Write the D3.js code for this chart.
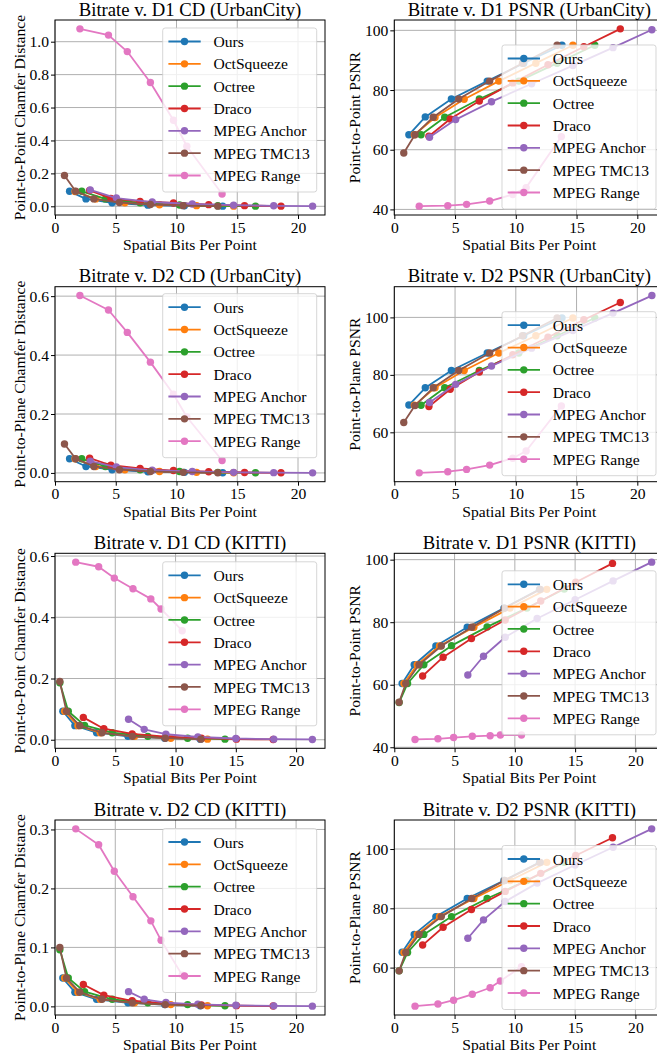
<!DOCTYPE html>
<html>
<head>
<meta charset="utf-8">
<script src="https://cdn.jsdelivr.net/npm/d3@7"></script>
<style>
  body { margin: 0; background: #fff; }
  svg { display: block; font-family: "Liberation Serif", "DejaVu Serif", serif; }
</style>
</head>
<body>
<svg id="fig" width="657" height="1055"></svg>
<script>
// methods, in plotting order (later ones are drawn on top)
const methods = ["Ours", "OctSqueeze", "Octree", "Draco", "MPEG Anchor", "MPEG TMC13", "MPEG Range"];
const palette = ["#1f77b4", "#ff7f0e", "#2ca02c", "#d62728", "#9467bd", "#8c564b", "#e377c2"];

// UrbanCity: spatial bits per point, one row per method
const urbanBpp = [
  [1.2, 2.55, 4.7, 7.65, 10.65, 13.8],
  [1.65, 3.35, 5.75, 8.6, 11.65, 14.7],
  [2.2, 4.15, 7.0, 10.25, 13.4, 16.5],
  [2.85, 4.6, 7.0, 9.75, 12.65, 15.6, 18.6],
  [2.9, 5.05, 8.0, 11.3, 14.7, 18.0, 21.2],
  [0.78, 1.7, 3.2, 5.3, 7.85, 10.55, 13.4],
  [2.05, 4.4, 5.95, 7.85, 9.75, 10.85, 13.75]
];
const urbanD1CD = [
  [0.091, 0.045, 0.021, 0.007, 0.003, 0.001],
  [0.09, 0.045, 0.022, 0.009, 0.004, 0.001],
  [0.091, 0.045, 0.021, 0.008, 0.003, 0.001],
  [0.097, 0.048, 0.03, 0.02, 0.01, 0.004, 0.001],
  [0.1, 0.05, 0.026, 0.014, 0.007, 0.003, 0.001],
  [0.187, 0.092, 0.045, 0.023, 0.011, 0.004, 0.001],
  [1.078, 1.04, 0.94, 0.752, 0.523, 0.365, 0.075]
];
const urbanD1PSNR = [
  [65, 71, 77, 83, 89, 95],
  [65, 70.8, 76.9, 83, 89, 95],
  [65, 70.9, 77, 83, 89, 95],
  [64.5, 70.3, 76.3, 82.4, 88.5, 94.5, 100.5],
  [64.2, 70.1, 76.1, 82.1, 88.2, 94.2, 100.2],
  [58.9, 65, 70.9, 77, 83, 89, 95],
  [41.1, 41.25, 41.7, 42.8, 45.0, 47.3, 64.4]
];
const urbanD2CD = [
  [0.048, 0.022, 0.011, 0.004, 0.002, 0.0005],
  [0.048, 0.022, 0.011, 0.005, 0.002, 0.0005],
  [0.048, 0.022, 0.011, 0.005, 0.002, 0.0005],
  [0.05, 0.026, 0.015, 0.008, 0.004, 0.0015, 0.0005],
  [0.04, 0.02, 0.009, 0.005, 0.002, 0.001, 0.0003],
  [0.098, 0.048, 0.022, 0.011, 0.005, 0.002, 0.0005],
  [0.602, 0.553, 0.477, 0.376, 0.267, 0.19, 0.042]
];
const urbanD2PSNR = [
  [69.5, 75.5, 81.5, 87.6, 93.6, 99.8],
  [69.4, 75.5, 81.5, 87.6, 93.6, 99.8],
  [69.4, 75.5, 81.5, 87.6, 93.6, 99.8],
  [69.0, 75.0, 81.0, 87.0, 93.1, 99.2, 105.2],
  [70.4, 76.7, 83.1, 89.3, 95.4, 101.5, 107.6],
  [63.4, 69.3, 75.5, 81.5, 87.6, 93.6, 99.8],
  [45.9, 46.3, 47.1, 48.6, 51.0, 53.5, 69.2]
];

// KITTI
const kittiBpp = [
  [0.65, 1.65, 3.45, 6.05, 9.1, 12.05],
  [0.8, 1.9, 3.75, 6.6, 9.6, 12.65],
  [0.4, 1.1, 2.45, 4.75, 7.7, 11.0, 14.1],
  [2.35, 4.05, 6.4, 9.2, 12.15, 15.05, 18.1],
  [6.1, 7.4, 9.2, 11.85, 15.0, 18.15, 21.35],
  [0.4, 0.95, 2.05, 3.9, 6.42, 9.15, 12.1],
  [1.72, 3.62, 4.92, 6.47, 7.95, 8.8, 10.55]
];
const kittiD1CD = [
  [0.093, 0.046, 0.023, 0.011, 0.005, 0.002],
  [0.093, 0.046, 0.023, 0.011, 0.005, 0.002],
  [0.186, 0.093, 0.047, 0.023, 0.011, 0.005, 0.002],
  [0.073, 0.036, 0.019, 0.01, 0.005, 0.002, 0.001],
  [0.067, 0.034, 0.018, 0.009, 0.004, 0.002, 0.001],
  [0.19, 0.093, 0.046, 0.023, 0.011, 0.005, 0.002],
  [0.58, 0.565, 0.528, 0.493, 0.46, 0.427, 0.356]
];
const kittiD1PSNR = [
  [60.4, 66.4, 72.4, 78.4, 84.5, 90.5],
  [60.4, 66.4, 72.4, 78.4, 84.5, 90.5],
  [54.3, 60.4, 66.4, 72.5, 78.5, 84.5, 90.6],
  [62.8, 68.8, 74.8, 80.7, 86.8, 92.8, 98.8],
  [63.1, 69.1, 75.2, 81.2, 87.2, 93.2, 99.2],
  [54.4, 60.4, 66.4, 72.4, 78.4, 84.5, 90.5],
  [42.5, 42.7, 43.1, 43.5, 43.7, 43.9, 43.9]
];
const kittiD2CD = [
  [0.048, 0.024, 0.012, 0.006, 0.003, 0.001],
  [0.048, 0.024, 0.012, 0.006, 0.003, 0.001],
  [0.096, 0.048, 0.025, 0.012, 0.006, 0.003, 0.001],
  [0.037, 0.019, 0.0095, 0.005, 0.0025, 0.0012, 0.0006],
  [0.025, 0.012, 0.0065, 0.0035, 0.0018, 0.0009, 0.0004],
  [0.1, 0.048, 0.024, 0.012, 0.006, 0.003, 0.0015],
  [0.301, 0.274, 0.229, 0.186, 0.145, 0.112, 0.053]
];
const kittiD2PSNR = [
  [65.2, 71.2, 77.2, 83.3, 89.4, 95.5],
  [65.1, 71.2, 77.2, 83.3, 89.4, 95.5],
  [58.9, 65.1, 71.2, 77.2, 83.3, 89.4, 95.5],
  [67.6, 73.6, 79.6, 85.7, 91.8, 97.8, 103.8],
  [69.9, 76.1, 82.3, 88.5, 94.6, 100.6, 106.8],
  [58.9, 65.1, 71.2, 77.2, 83.3, 89.4, 95.5],
  [47.0, 47.7, 49.0, 51.0, 53.2, 55.5, 60.3]
];

const titles = [
  "Bitrate v. D1 CD (UrbanCity)", "Bitrate v. D1 PSNR (UrbanCity)",
  "Bitrate v. D2 CD (UrbanCity)", "Bitrate v. D2 PSNR (UrbanCity)",
  "Bitrate v. D1 CD (KITTI)", "Bitrate v. D1 PSNR (KITTI)",
  "Bitrate v. D2 CD (KITTI)", "Bitrate v. D2 PSNR (KITTI)"
];
const yLabels = [
  "Point-to-Point Chamfer Distance", "Point-to-Point PSNR",
  "Point-to-Plane Chamfer Distance", "Point-to-Plane PSNR",
  "Point-to-Point Chamfer Distance", "Point-to-Point PSNR",
  "Point-to-Plane Chamfer Distance", "Point-to-Plane PSNR"
];
const yTicks = [
  [0, 0.2, 0.4, 0.6, 0.8, 1.0], [40, 60, 80, 100],
  [0, 0.2, 0.4, 0.6], [60, 80, 100],
  [0, 0.2, 0.4, 0.6], [40, 60, 80, 100],
  [0, 0.1, 0.2, 0.3], [60, 80, 100]
];
const xTicks = [0, 5, 10, 15, 20];
const xLabel = "Spatial Bits Per Point";

const panels = [
  {bpp: urbanBpp, vals: urbanD1CD}, {bpp: urbanBpp, vals: urbanD1PSNR},
  {bpp: urbanBpp, vals: urbanD2CD}, {bpp: urbanBpp, vals: urbanD2PSNR},
  {bpp: kittiBpp, vals: kittiD1CD}, {bpp: kittiBpp, vals: kittiD1PSNR},
  {bpp: kittiBpp, vals: kittiD2CD}, {bpp: kittiBpp, vals: kittiD2PSNR}
];

// layout
const axW = 270, axH = 195;
const colLeft = [55, 394.3];
const rowTop = [20, 286.7, 553.3, 820];
const legendTop = [8, 25, 7, 25, 8.5, 17.5, 8.5, 25.5]; // offset from axes top
const fs = 15.6, titleFs = 18.7;

const svg = d3.select("#fig");

panels.forEach((p, i) => {
  const left = colLeft[i % 2], top = rowTop[Math.floor(i / 2)];
  const bottom = top + axH, right = left + axW;
  const isCD = i % 2 === 0;

  const allX = p.bpp.flat(), allY = p.vals.flat();
  const [xMin, xMax] = d3.extent(allX);
  const [yMin, yMax] = d3.extent(allY);
  const x = d3.scaleLinear().domain([0, xMax + 0.05 * (xMax - xMin)]).range([left, right]);
  const y = d3.scaleLinear()
    .domain([yMin - 0.05 * (yMax - yMin), yMax + 0.05 * (yMax - yMin)])
    .range([bottom, top]);

  const g = svg.append("g");

  // grid
  g.append("g").selectAll("line").data(xTicks).join("line")
    .attr("x1", d => x(d)).attr("x2", d => x(d))
    .attr("y1", top).attr("y2", bottom)
    .attr("stroke", "#b0b0b0").attr("stroke-width", 1);
  g.append("g").selectAll("line").data(yTicks[i]).join("line")
    .attr("x1", left).attr("x2", right)
    .attr("y1", d => y(d)).attr("y2", d => y(d))
    .attr("stroke", "#b0b0b0").attr("stroke-width", 1);

  // series
  const line = d3.line().x(d => x(d[0])).y(d => y(d[1]));
  methods.forEach((m, k) => {
    const pts = p.bpp[k].map((b, j) => [b, p.vals[k][j]]);
    const s = g.append("g");
    s.append("path").datum(pts)
      .attr("d", line).attr("fill", "none")
      .attr("stroke", palette[k]).attr("stroke-width", 1.8)
      .attr("stroke-linejoin", "round");
    s.selectAll("circle").data(pts).join("circle")
      .attr("cx", d => x(d[0])).attr("cy", d => y(d[1]))
      .attr("r", 3.7).attr("fill", palette[k]);
  });

  // spines
  g.append("rect").attr("x", left).attr("y", top).attr("width", axW).attr("height", axH)
    .attr("fill", "none").attr("stroke", "#000").attr("stroke-width", 1);

  // axes
  const fmt = isCD ? d3.format(".1f") : d3.format("d");
  const ax = g.append("g").attr("transform", `translate(0,${bottom})`)
    .call(d3.axisBottom(x).tickValues(xTicks).tickSize(4).tickPadding(2.5).tickSizeOuter(0));
  const ay = g.append("g").attr("transform", `translate(${left},0)`)
    .call(d3.axisLeft(y).tickValues(yTicks[i]).tickFormat(fmt).tickSize(4).tickPadding(2).tickSizeOuter(0));
  [ax, ay].forEach(a => {
    a.select(".domain").remove();
    a.attr("font-family", null).attr("font-size", fs);
    a.selectAll("text").attr("fill", "#000");
  });

  // legend
  const lx = right - 8.3 - 154, ly = top + legendTop[i];
  const lg = g.append("g").attr("transform", `translate(${lx},${ly})`);
  lg.append("rect").attr("width", 154).attr("height", 164).attr("rx", 2.5)
    .attr("fill", "#fff").attr("fill-opacity", 0.8)
    .attr("stroke", "#cccccc").attr("stroke-opacity", 0.8).attr("stroke-width", 1);
  methods.forEach((m, k) => {
    const ry = 13.5 + k * 22.33;
    lg.append("line").attr("x1", 5.7).attr("x2", 38).attr("y1", ry).attr("y2", ry)
      .attr("stroke", palette[k]).attr("stroke-width", 1.8);
    lg.append("circle").attr("cx", 21.8).attr("cy", ry).attr("r", 3.7).attr("fill", palette[k]);
    lg.append("text").attr("x", 50.7).attr("y", ry).attr("dy", "0.36em")
      .attr("font-size", fs).text(m);
  });

  // title and labels
  g.append("text").attr("x", (left + right) / 2).attr("y", top - 4.3)
    .attr("text-anchor", "middle").attr("font-size", titleFs).text(titles[i]);
  g.append("text").attr("x", (left + right) / 2).attr("y", bottom + 35)
    .attr("text-anchor", "middle").attr("font-size", fs).text(xLabel);
  const tickLeft = d3.min(ay.selectAll("text").nodes(), n => n.getBBox().x) + left;
  const yl = tickLeft - 4.5;
  g.append("text")
    .attr("transform", `translate(${yl},${(top + bottom) / 2}) rotate(-90)`)
    .attr("text-anchor", "middle").attr("font-size", fs).text(yLabels[i]);
});
</script>
</body>
</html>
